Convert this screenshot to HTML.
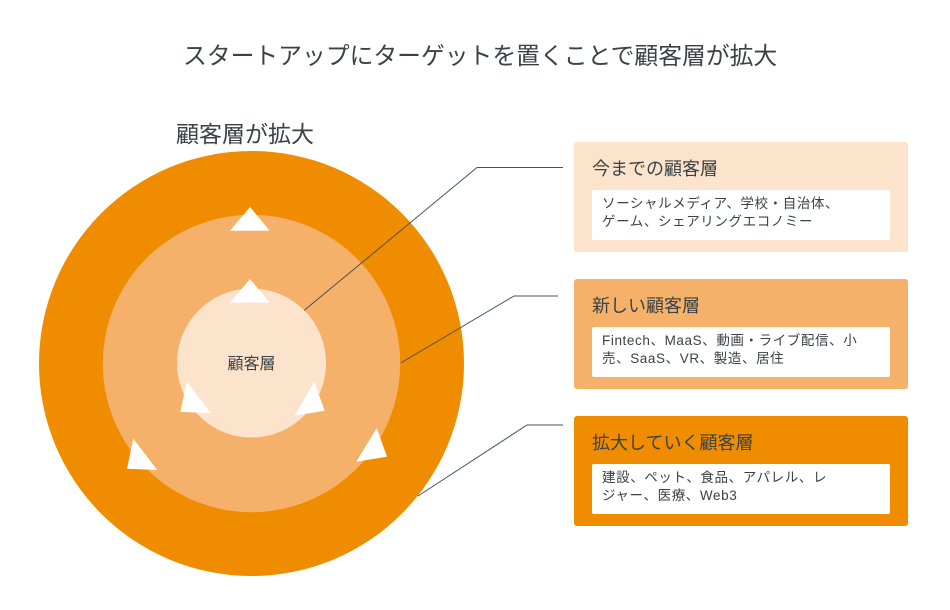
<!DOCTYPE html>
<html><head><meta charset="utf-8"><style>
body{margin:0;width:950px;height:610px;background:#fff;position:relative;overflow:hidden;font-family:"Liberation Sans","Noto Sans CJK JP",sans-serif;color:#3a4246}
.t{position:absolute;white-space:nowrap}
.box{position:absolute;left:574px;width:334px;height:110px;border-radius:3px}
.box .h{position:absolute;left:18px;top:13px;font-size:18px}
.box .w{position:absolute;left:18px;top:48px;width:298px;height:50px;background:#fff;border-radius:2px;font-size:13.5px;letter-spacing:0.6px;line-height:18px;padding:5px 10px;box-sizing:border-box;white-space:nowrap}
</style></head><body>
<div class="t" style="left:183px;top:36px;font-size:23.8px;letter-spacing:0px">スタートアップにターゲットを置くことで顧客層が拡大</div>
<div class="t" style="left:176px;top:115px;font-size:23px">顧客層が拡大</div>
<svg width="950" height="610" style="position:absolute;left:0;top:0">
<circle cx="251.5" cy="363.5" r="212.5" fill="#EF8C00"/>
<circle cx="251.5" cy="363.5" r="148.7" fill="#F5B16A"/>
<circle cx="251.5" cy="363" r="74.5" fill="#FCE4CC"/>
<g fill="#fff">
<polygon points="250,207 230,230.7 269.7,230.7"/>
<polygon points="250,279 230,302.7 269.7,302.7"/>
<polygon points="186.7,381.7 180.3,412 211,413"/>
<polygon points="314.3,381.7 324.7,410.7 294.7,415.7"/>
<polygon points="133.3,438.7 127,468.7 157.3,470"/>
<polygon points="376.7,428 387,456.7 356.3,461.7"/>
</g>
<g stroke="#4a5256" stroke-width="1" fill="none">
<polyline points="304.3,310.3 477,167.5 563,167.5"/>
<polyline points="400.7,363 514,296 558,296"/>
<polyline points="418,496 527,425 563,425"/>
</g>
<text x="251.5" y="369" font-size="16" text-anchor="middle" fill="#3a4246" font-family="Liberation Sans,Noto Sans CJK JP,sans-serif">顧客層</text>
</svg>
<div class="box" style="top:142px;background:#FCE4CC"><div class="h">今までの顧客層</div><div class="w">ソーシャルメディア、学校・自治体、<br>ゲーム、シェアリングエコノミー</div></div>
<div class="box" style="top:279px;background:#F5B16A"><div class="h">新しい顧客層</div><div class="w">Fintech、MaaS、動画・ライブ配信、小<br>売、SaaS、VR、製造、居住</div></div>
<div class="box" style="top:416px;background:#EF8C00"><div class="h">拡大していく顧客層</div><div class="w">建設、ペット、食品、アパレル、レ<br>ジャー、医療、Web3</div></div>
</body></html>
